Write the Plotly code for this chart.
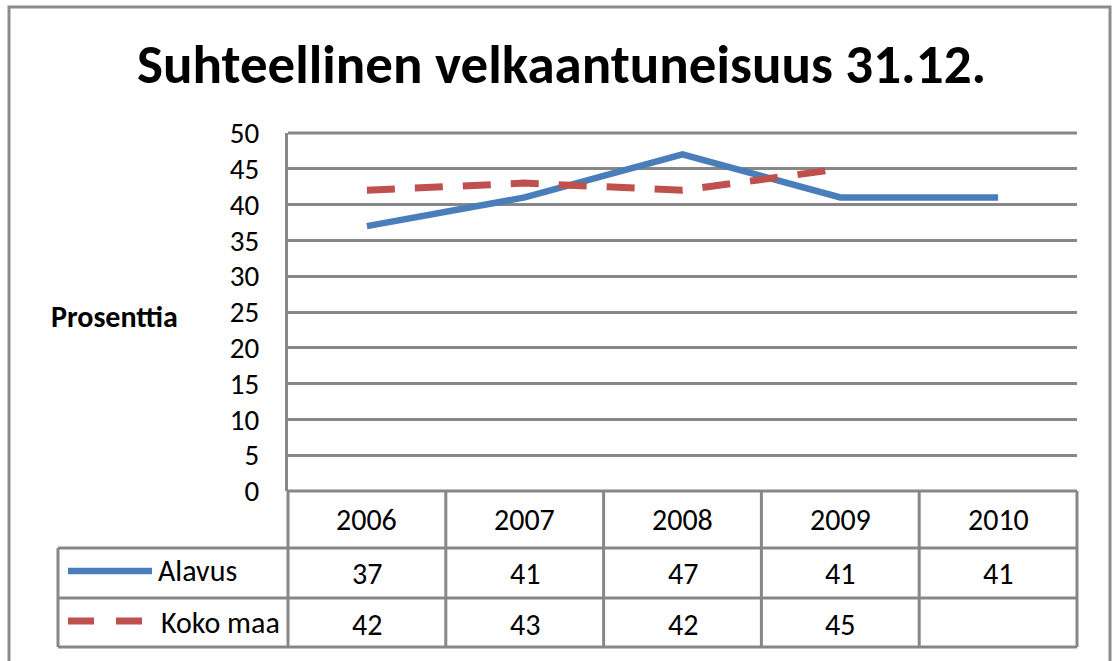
import plotly.graph_objects as go

# ---- data ----
years = ["2006", "2007", "2008", "2009", "2010"]
alavus = [37, 41, 47, 41, 41]
koko_maa = [42, 43, 42, 45, None]
y_ticks = [0, 5, 10, 15, 20, 25, 30, 35, 40, 45, 50]
title_text = "Suhteellinen velkaantuneisuus 31.12."
y_title = "Prosenttia"
series_names = ["Alavus", "Koko maa"]

W, H = 1113, 661
BLUE = "#4a7ebb"
RED = "#c0504d"
GRID = "#878787"
FONT = "Carlito, Calibri, Lato, sans-serif"

# pixel layout
PL, PR, PT, PB = 288, 1077, 133, 491
ROW1, ROW2, ROW3 = 548, 598, 647
LEG_L = 58


def fx(px):
    return px / W


def fy(py):
    return 1 - py / H


fig = go.Figure()
fig.add_trace(go.Scatter(x=years, y=alavus, mode="lines", name=series_names[0],
                         line=dict(color=BLUE, width=6.5), showlegend=False))
fig.add_trace(go.Scatter(x=years, y=koko_maa, mode="lines", name=series_names[1],
                         line=dict(color=RED, width=7, dash="28px,20px"),
                         connectgaps=False, showlegend=False))

shapes = []


def hline(x0, x1, y, layer="above"):
    shapes.append(dict(type="line", xref="paper", yref="paper", x0=fx(x0), x1=fx(x1),
                       y0=fy(y), y1=fy(y), line=dict(color=GRID, width=3), layer=layer))


def vline(x, y0, y1):
    shapes.append(dict(type="line", xref="paper", yref="paper", x0=fx(x), x1=fx(x),
                       y0=fy(y0), y1=fy(y1), line=dict(color=GRID, width=3)))


# outer border
shapes.append(dict(type="rect", xref="paper", yref="paper", x0=fx(9), x1=fx(1110),
                   y0=fy(675), y1=fy(7), line=dict(color="#8c8c8c", width=3)))

# top gridline (range edge)
hline(PL, PR, PT, layer="below")

# table
colw = (PR - PL) / len(years)
hline(PL, PR, PB)
hline(LEG_L, PR, ROW1)
hline(LEG_L, PR, ROW2)
hline(LEG_L, PR, ROW3)
for i in range(len(years) + 1):
    vline(PL + i * colw, PB, ROW3)
vline(LEG_L, ROW1, ROW3)

# legend keys
shapes.append(dict(type="line", xref="paper", yref="paper", x0=fx(68), x1=fx(152),
                   y0=fy(571), y1=fy(571), line=dict(color=BLUE, width=6.5)))
shapes.append(dict(type="line", xref="paper", yref="paper", x0=fx(68), x1=fx(145),
                   y0=fy(621), y1=fy(621), line=dict(color=RED, width=7, dash="26px,22px")))

annotations = []
rows = [(519, years), (573, alavus), (624, koko_maa)]
for yc, vals in rows:
    for i, v in enumerate(vals):
        if v is None:
            continue
        annotations.append(dict(xref="x", yref="paper", x=i, y=fy(yc), text=str(v),
                                showarrow=False, xanchor="center", yanchor="middle",
                                font=dict(family=FONT, size=30, color="black")))

annotations.append(dict(xref="paper", yref="paper", x=fx(156), y=fy(570), text=series_names[0],
                        showarrow=False, xanchor="left", yanchor="middle",
                        font=dict(family=FONT, size=30, color="black")))
annotations.append(dict(xref="paper", yref="paper", x=fx(159), y=fy(622), text=series_names[1],
                        showarrow=False, xanchor="left", yanchor="middle",
                        font=dict(family=FONT, size=30, color="black")))
annotations.append(dict(xref="paper", yref="paper", x=fx(49), y=fy(316), text="<b>" + y_title + "</b>",
                        showarrow=False, xanchor="left", yanchor="middle",
                        font=dict(family=FONT, size=30, color="black")))
annotations.append(dict(xref="paper", yref="paper", x=fx(561), y=fy(65), text="<b>" + title_text + "</b>",
                        showarrow=False, xanchor="center", yanchor="middle",
                        font=dict(family=FONT, size=55, color="black")))

fig.update_layout(
    width=W, height=H, autosize=False,
    margin=dict(l=0, r=0, t=0, b=0, pad=0),
    paper_bgcolor="white", plot_bgcolor="white",
    shapes=shapes, annotations=annotations,
    xaxis=dict(domain=[fx(PL), fx(PR)], type="category", range=[-0.5, 4.5],
               showticklabels=False, showgrid=False, zeroline=False, ticks="",
               showline=False, fixedrange=True, automargin=False),
    yaxis=dict(domain=[fy(PB), fy(PT)], range=[0, 50], tickvals=y_ticks,
               showgrid=True, gridcolor=GRID, gridwidth=3, zeroline=False,
               showline=True, linecolor=GRID, linewidth=3,
               ticks="", ticklabelstandoff=20, automargin=False,
               tickfont=dict(family=FONT, size=29, color="black"), fixedrange=True),
)

fig.write_html("out.html", config={"displayModeBar": False},
               post_script="document.body.style.margin='0';document.body.style.padding='0';"
                           "document.body.style.overflow='hidden';")
